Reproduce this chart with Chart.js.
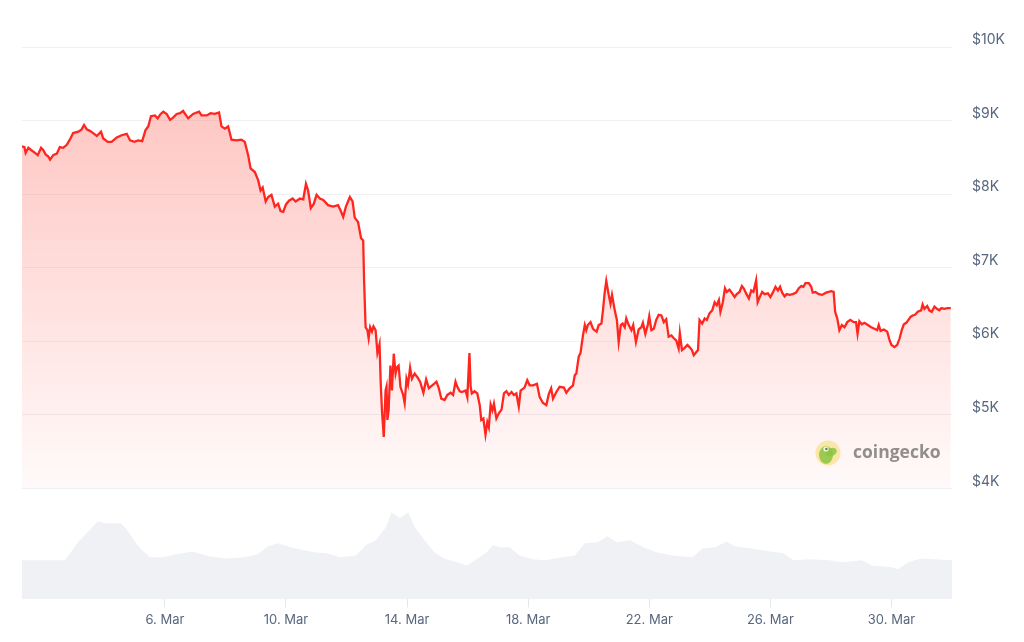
<!DOCTYPE html>
<html>
<head>
<meta charset="utf-8">
<script src="https://cdn.jsdelivr.net/npm/chart.js@4.4.1/dist/chart.umd.min.js"></script>
<style>
  html, body { margin: 0; padding: 0; background: #fff; }
  #wrap { width: 1024px; height: 642px; position: relative; }
</style>
</head>
<body>
<div id="wrap"><canvas id="chart"></canvas></div>
<script>
// x values are days of March 2020 (fractional), prices in USD
const priceDays = [
  1.28, 1.36, 1.40, 1.49, 1.58, 1.71, 1.80, 1.91, 1.98, 2.06, 2.15, 2.21, 2.31, 2.43, 2.53, 2.64, 2.76, 2.86, 2.97, 3.14,
  3.25, 3.33, 3.42, 3.52, 3.63, 3.75, 3.89, 3.96, 4.11, 4.24, 4.41, 4.57, 4.74, 4.85, 4.99, 5.12, 5.25, 5.36, 5.45, 5.54,
  5.67, 5.76, 5.86, 5.95, 6.06, 6.17, 6.27, 6.39, 6.50, 6.60, 6.77, 6.93, 7.13, 7.21, 7.38, 7.51, 7.65, 7.79, 7.87, 7.98,
  8.09, 8.20, 8.37, 8.53, 8.64, 8.75, 8.83, 8.97, 9.08, 9.16, 9.23, 9.33, 9.41, 9.52, 9.63, 9.74, 9.82, 9.91, 10.00, 10.10,
  10.22, 10.32, 10.46, 10.57, 10.66, 10.73, 10.82, 10.92, 11.01, 11.12, 11.23, 11.39, 11.56, 11.72, 11.80, 11.89, 11.98, 12.11, 12.20, 12.27,
  12.38, 12.48, 12.55, 12.58, 12.63, 12.69, 12.73, 12.78, 12.84, 12.89, 12.96, 13.02, 13.09, 13.13, 13.17, 13.23, 13.29, 13.32, 13.35, 13.39,
  13.45, 13.50, 13.56, 13.62, 13.67, 13.72, 13.78, 13.87, 13.92, 13.98, 14.03, 14.10, 14.16, 14.25, 14.34, 14.43, 14.54, 14.63, 14.72, 14.80,
  14.89, 14.97, 15.05, 15.13, 15.24, 15.33, 15.44, 15.52, 15.60, 15.66, 15.74, 15.81, 15.93, 15.99, 16.06, 16.10, 16.14, 16.23, 16.32, 16.40,
  16.45, 16.52, 16.59, 16.65, 16.70, 16.76, 16.82, 16.87, 16.95, 17.03, 17.12, 17.20, 17.28, 17.36, 17.45, 17.53, 17.61, 17.69, 17.75, 17.88,
  17.97, 18.05, 18.16, 18.29, 18.38, 18.49, 18.60, 18.68, 18.76, 18.82, 18.93, 19.04, 19.18, 19.26, 19.37, 19.48, 19.54, 19.59, 19.67, 19.73,
  19.81, 19.87, 19.92, 19.97, 20.06, 20.14, 20.19, 20.26, 20.33, 20.42, 20.47, 20.53, 20.58, 20.66, 20.72, 20.77, 20.86, 20.93, 20.99, 21.06,
  21.12, 21.19, 21.24, 21.32, 21.41, 21.47, 21.56, 21.65, 21.74, 21.79, 21.87, 21.95, 22.00, 22.07, 22.15, 22.23, 22.31, 22.40, 22.48, 22.56,
  22.64, 22.73, 22.81, 22.89, 22.97, 23.01, 23.08, 23.17, 23.26, 23.33, 23.41, 23.47, 23.55, 23.61, 23.66, 23.75, 23.83, 23.90, 23.99, 24.08,
  24.16, 24.23, 24.30, 24.35, 24.43, 24.50, 24.56, 24.65, 24.74, 24.82, 24.89, 24.98, 25.06, 25.12, 25.20, 25.29, 25.37, 25.44, 25.53, 25.58,
  25.66, 25.73, 25.81, 25.92, 26.00, 26.08, 26.17, 26.25, 26.32, 26.39, 26.47, 26.54, 26.63, 26.74, 26.85, 26.94, 27.02, 27.09, 27.16, 27.27,
  27.35, 27.40, 27.49, 27.60, 27.71, 27.84, 28.01, 28.09, 28.14, 28.21, 28.28, 28.36, 28.45, 28.54, 28.64, 28.75, 28.83, 28.88, 28.94, 29.02,
  29.11, 29.22, 29.33, 29.44, 29.53, 29.58, 29.64, 29.75, 29.86, 29.94, 30.00, 30.10, 30.19, 30.27, 30.34, 30.41, 30.49, 30.56, 30.63, 30.70,
  30.78, 30.87, 30.98, 31.03, 31.09, 31.18, 31.25, 31.33, 31.42, 31.50, 31.58, 31.65, 31.74, 31.85, 31.96
];
const priceValues = [
  8650, 8640, 8560, 8630, 8600, 8560, 8530, 8630, 8600, 8540, 8510, 8470, 8530, 8550, 8640, 8630, 8670, 8740, 8830, 8850,
  8880, 8940, 8880, 8860, 8830, 8790, 8850, 8760, 8710, 8710, 8770, 8800, 8820, 8730, 8710, 8730, 8720, 8870, 8920, 9060,
  9070, 9030, 9090, 9120, 9090, 9010, 9040, 9090, 9100, 9130, 9030, 9090, 9120, 9070, 9070, 9100, 9090, 9110, 8920, 8890,
  8920, 8740, 8730, 8740, 8710, 8530, 8350, 8300, 8190, 8050, 8090, 7900, 7960, 7990, 7830, 7870, 7770, 7760, 7860, 7910,
  7940, 7900, 7940, 7930, 8140, 8050, 7810, 7870, 7990, 7940, 7920, 7850, 7830, 7850, 7780, 7690, 7830, 7960, 7900, 7680,
  7620, 7400, 7370, 6830, 6190, 6150, 6040, 6190, 6130, 6200, 6150, 5840, 5960, 5420, 5060, 4700, 5330, 5380, 4930, 5060,
  5670, 5330, 5830, 5560, 5650, 5670, 5380, 5270, 5160, 5490, 5410, 5640, 5490, 5560, 5510, 5450, 5300, 5480, 5360, 5390,
  5420, 5450, 5360, 5220, 5200, 5270, 5300, 5270, 5450, 5380, 5320, 5310, 5330, 5240, 5840, 5380, 5290, 5320, 5290, 5130,
  4930, 4950, 4730, 4900, 4830, 5140, 5060, 5150, 4950, 5020, 5070, 5290, 5320, 5270, 5310, 5270, 5290, 5110, 5330, 5370,
  5470, 5400, 5400, 5420, 5240, 5160, 5130, 5280, 5360, 5220, 5310, 5380, 5370, 5300, 5360, 5400, 5540, 5560, 5790, 5840,
  6080, 6220, 6150, 6220, 6260, 6170, 6150, 6130, 6220, 6240, 6420, 6670, 6820, 6630, 6510, 6630, 6420, 6290, 5990, 6220,
  6240, 6190, 6310, 6220, 6150, 6220, 5990, 6160, 6190, 6250, 6100, 6220, 6340, 6150, 6170, 6290, 6360, 6350, 6260, 6300,
  6060, 6080, 6040, 6010, 5900, 6110, 5880, 5910, 5950, 5920, 5880, 5810, 5850, 5880, 6290, 6240, 6310, 6290, 6380, 6420,
  6530, 6490, 6560, 6400, 6530, 6720, 6670, 6700, 6650, 6600, 6640, 6670, 6750, 6720, 6650, 6580, 6690, 6670, 6830, 6530,
  6610, 6670, 6640, 6650, 6600, 6660, 6740, 6690, 6740, 6660, 6610, 6640, 6630, 6640, 6660, 6720, 6750, 6740, 6790, 6790,
  6740, 6660, 6670, 6640, 6630, 6660, 6680, 6670, 6400, 6310, 6150, 6220, 6190, 6260, 6290, 6260, 6260, 6100, 6270, 6230,
  6250, 6220, 6190, 6170, 6150, 6220, 6140, 6160, 6130, 6010, 5950, 5920, 5950, 6040, 6150, 6230, 6250, 6290, 6330, 6350,
  6360, 6400, 6420, 6500, 6440, 6480, 6420, 6400, 6470, 6440, 6420, 6450, 6440, 6450, 6450
];

// total volume, billions USD
const volumeDays = [
  1.28, 2.70, 3.13, 3.79, 4.01, 4.55, 4.76, 5.05, 5.19, 5.51, 5.93, 6.38, 6.92, 7.45, 7.99, 8.64, 9.07, 9.40, 9.73, 10.16,
  10.59, 10.92, 11.35, 11.78, 12.31, 12.64, 12.97, 13.30, 13.49, 13.76, 14.04, 14.25, 14.58, 14.90, 15.22, 15.66, 15.97, 16.30, 16.63, 16.84,
  17.06, 17.39, 17.71, 18.14, 18.57, 19.11, 19.54, 19.87, 20.29, 20.62, 20.94, 21.37, 21.81, 22.24, 22.77, 23.43, 23.75, 24.18, 24.55, 24.82,
  25.36, 26.00, 26.43, 26.76, 27.31, 27.95, 28.38, 29.03, 29.35, 30.00, 30.22, 30.54, 30.97, 31.40, 32.00
];
const volumeValues = [
  32.4, 32.4, 47.3, 64.7, 63.1, 63.1, 57.3, 46.5, 42.3, 34.9, 34.9, 37.4, 39.8, 35.7, 34.0, 34.9, 37.4, 44.0, 46.5, 43.2,
  40.7, 39.0, 38.2, 34.9, 36.5, 44.8, 49.0, 59.8, 72.2, 67.2, 72.2, 59.8, 49.0, 39.0, 34.0, 30.7, 28.2, 33.2, 39.0, 44.8,
  43.2, 43.2, 36.5, 33.2, 32.4, 34.9, 36.5, 46.5, 47.3, 52.3, 47.3, 49.0, 43.2, 39.0, 36.5, 34.9, 42.3, 43.2, 48.1, 44.0,
  42.3, 39.8, 38.2, 32.4, 33.2, 32.4, 30.7, 32.4, 28.2, 26.6, 24.9, 30.7, 34.0, 33.2, 32.4
];

const tickDays = [6, 10, 14, 18, 22, 26, 30];
const tickLabels = ["6. Mar", "10. Mar", "14. Mar", "18. Mar", "22. Mar", "26. Mar", "30. Mar"];
const priceTicks = [4000, 5000, 6000, 7000, 8000, 9000, 10000];

const priceData = priceDays.map((d, i) => ({ x: d, y: priceValues[i] }));
const volumeData = volumeDays.map((d, i) => ({ x: d, y: volumeValues[i] }));

const LINE_RED = "rgb(255, 38, 32)";
const GRID = "#eff1f4";
const LABEL = "#58667e";

function priceFill(context) {
    const chart = context.chart;
    const { ctx, chartArea, scales } = chart;
    if (!chartArea) return null;
    const top = scales.y.getPixelForValue(9200);
    const bottom = scales.y.getPixelForValue(4000);
    const g = ctx.createLinearGradient(0, top, 0, bottom);
    g.addColorStop(0, "rgba(252, 130, 122, 0.45)");
    g.addColorStop(1, "rgba(255, 130, 122, 0.04)");
    return g;
}

// coingecko watermark drawn over the plot
const watermark = {
    id: "watermark",
    afterDatasetsDraw(chart) {
        const { ctx, chartArea } = chart;
        const cx = chartArea.right - 124;
        const cy = chartArea.top + 406;
        ctx.save();
        ctx.globalAlpha = 0.85;
        ctx.fillStyle = "#f9e49a";
        ctx.beginPath();
        ctx.arc(cx, cy, 12.5, 0, Math.PI * 2);
        ctx.fill();
        ctx.fillStyle = "#8cc542";
        ctx.beginPath();
        ctx.ellipse(cx - 2, cy + 2, 7, 9, 0, 0, Math.PI * 2);
        ctx.fill();
        ctx.beginPath();
        ctx.ellipse(cx + 3, cy - 1, 6, 4, -0.3, 0, Math.PI * 2);
        ctx.fill();
        ctx.fillStyle = "#ffffff";
        ctx.beginPath();
        ctx.arc(cx - 2, cy - 4, 2.6, 0, Math.PI * 2);
        ctx.fill();
        ctx.fillStyle = "#58595b";
        ctx.beginPath();
        ctx.arc(cx - 1.6, cy - 4, 1.2, 0, Math.PI * 2);
        ctx.fill();
        ctx.globalAlpha = 0.75;
        ctx.fillStyle = "#6b6b6b";
        ctx.font = "bold 17.5px 'Open Sans', 'Noto Sans', sans-serif";
        ctx.textBaseline = "middle";
        ctx.textAlign = "left";
        ctx.fillText("coingecko", cx + 25, cy);
        ctx.restore();
    }
};

const ctx = document.getElementById("chart").getContext("2d");

const chart = new Chart(ctx, {
    type: "line",
    data: {
        datasets: [
            {
                label: "Price",
                data: priceData,
                yAxisID: "y",
                borderColor: LINE_RED,
                borderWidth: 2.3,
                pointRadius: 0,
                tension: 0,
                fill: { value: 4000 },
                backgroundColor: priceFill,
                order: 1
            },
            {
                label: "Volume",
                data: volumeData,
                yAxisID: "yv",
                borderWidth: 0,
                borderColor: "rgba(0,0,0,0)",
                pointRadius: 0,
                tension: 0,
                fill: "origin",
                backgroundColor: "#eff1f4",
                order: 2
            }
        ]
    },
    options: {
        responsive: true,
        maintainAspectRatio: false,
        animation: false,
        layout: { padding: { left: 22, top: 47, right: 0, bottom: 9 } },
        plugins: {
            legend: { display: false },
            tooltip: { enabled: false }
        },
        scales: {
            x: {
                type: "linear",
                min: 1.28,
                max: 32.0,
                afterBuildTicks: (scale) => {
                    scale.ticks = tickDays.map(v => ({ value: v }));
                },
                border: { display: false },
                grid: {
                    drawOnChartArea: false,
                    drawTicks: true,
                    tickLength: 8,
                    color: "#e3e6ea"
                },
                ticks: {
                    autoSkip: false,
                    maxRotation: 0,
                    padding: 5,
                    color: LABEL,
                    font: { family: "Inter, 'Noto Sans', sans-serif", size: 13 },
                    callback: (v, i) => tickLabels[i]
                }
            },
            y: {
                position: "right",
                min: 2490,
                max: 10000,
                afterBuildTicks: (scale) => {
                    scale.ticks = priceTicks.map(v => ({ value: v }));
                },
                afterFit: (scale) => { scale.width = 72; },
                border: { display: false },
                grid: { color: GRID, drawTicks: false, lineWidth: 1 },
                ticks: {
                    padding: 20,
                    labelOffset: -7,
                    color: LABEL,
                    font: { family: "Inter, 'Noto Sans', sans-serif", size: 14 },
                    callback: (v) => "$" + (v / 1000) + "K"
                }
            },
            yv: {
                display: false,
                min: 0,
                max: 458
            }
        }
    },
    plugins: [watermark]
});
</script>
</body>
</html>
